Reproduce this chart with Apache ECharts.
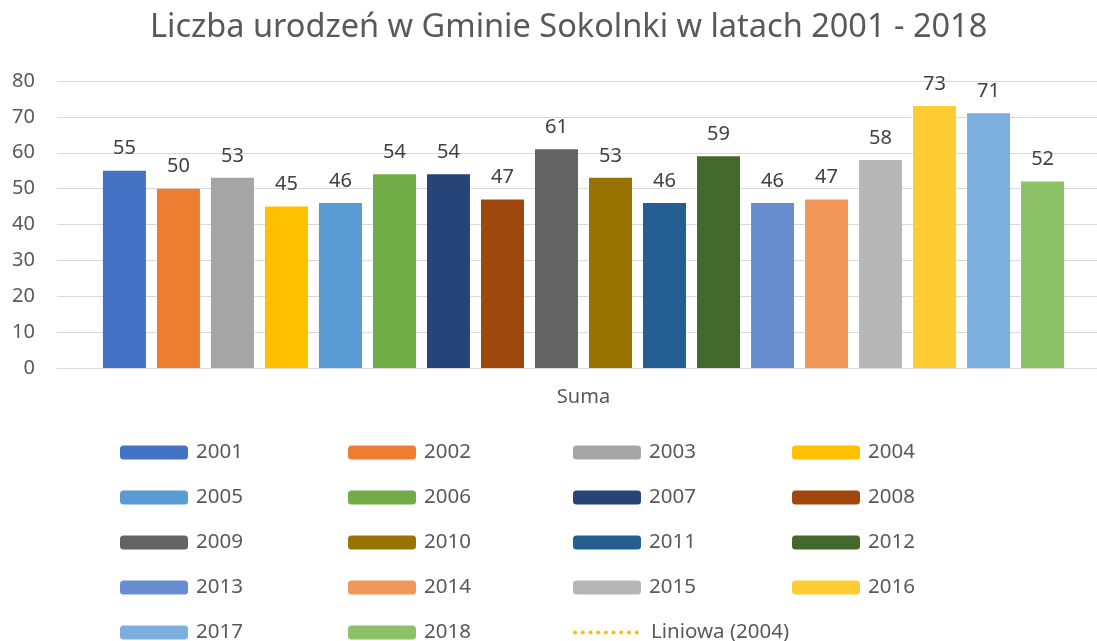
<!DOCTYPE html>
<html>
<head>
<meta charset="utf-8">
<title>Liczba urodzeń</title>
<script src="https://cdn.jsdelivr.net/npm/echarts@6/dist/echarts.min.js"></script>
<style>
  html, body { margin: 0; padding: 0; background: #fff; }
  #chart { width: 1097px; height: 641px; }
</style>
</head>
<body>
<div id="chart"></div>
<script>
// dane
const categories = ['Suma'];
const years = ['2001', '2002', '2003', '2004', '2005', '2006', '2007', '2008', '2009',
  '2010', '2011', '2012', '2013', '2014', '2015', '2016', '2017', '2018'];
const births = [55, 50, 53, 45, 46, 54, 54, 47, 61, 53, 46, 59, 46, 47, 58, 73, 71, 52];
const colors = ['#4472C4', '#ED7D31', '#A5A5A5', '#FFC000', '#5B9BD5', '#70AD47',
  '#264478', '#9E480E', '#636363', '#997300', '#255E91', '#43682B',
  '#698ED0', '#F1975A', '#B7B7B7', '#FFCD33', '#7CAFDD', '#8CC168'];
const trendName = 'Liniowa (2004)';
const trendValues = [45];
const yTicks = { min: 0, max: 80, interval: 10 };

const font = '"Noto Sans", "Open Sans", sans-serif';
const trendLine = { color: '#FFC000', width: 4, type: [0.1, 7.6], cap: 'round', opacity: 1 };
const chart = echarts.init(document.getElementById('chart'));

// słupki - jedna seria na rok (siatka 1)
let series = years.map((y, i) => ({
  name: y,
  type: 'bar',
  xAxisIndex: 1,
  yAxisIndex: 1,
  data: [births[i]],
  barWidth: 43,
  barGap: '25.6%',
  itemStyle: { color: colors[i] },
  label: {
    show: true,
    position: 'top',
    distance: 12,
    color: '#404040',
    fontSize: 20,
    fontFamily: font
  }
}));
// linia trendu (jeden punkt, widoczna tylko w legendzie)
series.push({
  name: trendName,
  type: 'line',
  xAxisIndex: 1,
  yAxisIndex: 1,
  data: trendValues,
  symbol: 'none',
  itemStyle: { color: '#FFC000' },
  lineStyle: trendLine
});

// legenda: siatka 4 kolumny x 5 wierszy
const legendColsX = [120, 348, 573, 792];
const legendRowsY = [451, 496, 541, 586, 631];
const legendOrder = [...years, trendName];
const legends = legendOrder.map((name, i) => {
  let lg = {
    left: legendColsX[i % 4],
    top: legendRowsY[Math.floor(i / 4)] - 9,
    itemWidth: 68,
    itemHeight: 14,
    padding: 0,
    selectedMode: false,
    data: [name],
    textStyle: { color: '#595959', fontSize: 20.5, fontFamily: font, padding: [0, 0, 0, 3] }
  };
  if (name === trendName) {
    // ukrywamy kółko, zostaje sama kropkowana linia
    lg.itemStyle = { opacity: 0 };
    lg.lineStyle = trendLine;
  }
  return lg;
});

chart.setOption({
  animation: false,
  title: {
    text: 'Liczba urodzeń w Gminie Sokolnki w latach 2001 - 2018',
    left: 145,
    top: 6,
    textStyle: { color: '#595959', fontSize: 32.5, fontWeight: 'normal', fontFamily: font }
  },
  legend: legends,
  grid: [
    // siatka osi Y i linii pomocniczych
    { left: 57, top: 81, right: 0, height: 287 },
    // siatka słupków
    { left: 70, top: 81, width: 1027, height: 287 }
  ],
  xAxis: [
    {
      type: 'category',
      gridIndex: 0,
      data: categories,
      axisTick: { show: false },
      axisLine: { lineStyle: { color: '#D9D9D9', width: 1 } },
      axisLabel: { show: false }
    },
    {
      type: 'category',
      gridIndex: 1,
      data: categories,
      axisTick: { show: false },
      axisLine: { show: false },
      axisLabel: { color: '#595959', fontSize: 20, margin: 19, fontFamily: font }
    }
  ],
  yAxis: [
    {
      type: 'value',
      gridIndex: 0,
      min: yTicks.min,
      max: yTicks.max,
      interval: yTicks.interval,
      axisLine: { show: false },
      axisTick: { show: false },
      splitLine: { lineStyle: { color: '#D9D9D9', width: 1 } },
      axisLabel: { color: '#595959', fontSize: 20, margin: 22, fontFamily: font }
    },
    {
      type: 'value',
      gridIndex: 1,
      min: yTicks.min,
      max: yTicks.max,
      interval: yTicks.interval,
      show: false,
      splitLine: { show: false }
    }
  ],
  series: series
});
</script>
</body>
</html>
